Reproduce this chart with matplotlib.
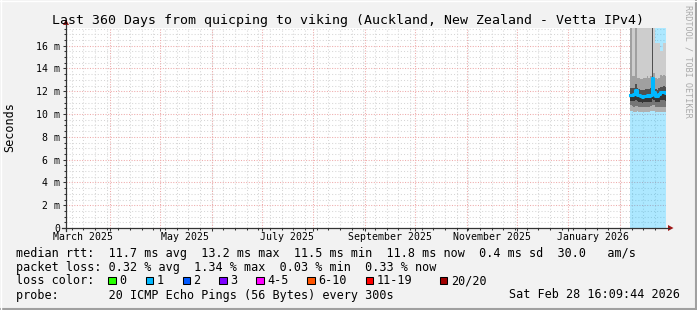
import matplotlib

matplotlib.use("Agg")
import matplotlib.pyplot as plt
from matplotlib.lines import Line2D
from matplotlib.patches import Polygon, Rectangle
import matplotlib.dates as mdates
import numpy as np
import pandas as pd

W, H = 697, 310
MONO = "DejaVu Sans Mono"

t_start = pd.Timestamp("2025-03-05 16:09:44")
t_end = pd.Timestamp("2026-02-28 16:09:44")

# one consolidated bin per day, Feb 7 .. Feb 28 2026 (ms)
bin_days = pd.date_range("2026-02-07", "2026-02-28", freq="D")
median_ms = [11.65, 11.70, 11.75, 12.10, 11.70, 11.65, 11.55, 11.50, 11.55, 11.60, 11.65,
             11.60, 11.65, 13.20, 11.95, 11.60, 11.60, 11.75, 11.90, 11.90, 11.90, 11.85]
smoke_min = [10.30, 10.25, 10.20, 10.20, 10.25, 10.20, 10.15, 10.15, 10.20, 10.20, 10.20,
             10.20, 10.25, 10.30, 10.25, 10.20, 10.20, 10.15, 10.15, 10.20, 10.20, 10.20]
smoke_p10 = [10.75, 10.70, 10.65, 10.70, 10.70, 10.65, 10.60, 10.60, 10.65, 10.65, 10.65,
             10.65, 10.70, 10.80, 10.75, 10.65, 10.60, 10.60, 10.65, 10.65, 10.65, 10.65]
smoke_p25 = [11.15, 11.15, 11.15, 11.20, 11.15, 11.10, 11.05, 11.00, 11.05, 11.05, 11.10,
             11.05, 11.10, 11.30, 11.25, 11.05, 11.05, 11.10, 11.20, 11.20, 11.20, 11.15]
smoke_p75 = [12.25, 12.30, 12.30, 12.60, 12.25, 12.20, 12.15, 12.10, 12.15, 12.20, 12.20,
             12.20, 12.25, 18.50, 12.50, 12.20, 12.15, 12.30, 12.40, 12.40, 12.45, 12.40]
smoke_p90 = [18.50, 13.30, 13.30, 18.50, 13.20, 13.20, 13.10, 13.10, 13.20, 13.20, 13.30,
             13.20, 13.30, 18.50, 13.60, 13.20, 13.10, 13.20, 13.40, 13.30, 13.40, 13.30]
smoke_max = [18.50, 18.50, 18.50, 18.50, 18.50, 18.50, 18.50, 18.50, 18.50, 18.50, 18.50,
             18.50, 18.50, 18.50, 18.50, 16.20, 16.20, 16.20, 15.50, 15.50, 16.20, 16.20]

y_major = np.arange(0, 17, 2)
y_labels = ["0"] + [f"{v} m" for v in y_major[1:]]
month_lines = pd.date_range("2025-04-01", "2026-02-01", freq="MS")
week_lines = pd.date_range("2025-03-09", "2026-02-28", freq="W-SUN")
label_months = pd.to_datetime(["2025-03-16", "2025-05-16", "2025-07-16",
                               "2025-09-16", "2025-11-16", "2026-01-16"])
label_texts = ["March 2025", "May 2025", "July 2025",
               "September 2025", "November 2025", "January 2026"]

loss_names = ["0", "1", "2", "3", "4-5", "6-10", "11-19", "20/20"]
loss_colors = ["#26ff00", "#00b8ff", "#0059ff", "#7e00ff",
               "#ff00ff", "#ff5500", "#ff0000", "#a10000"]
swatch_x = [108, 145.5, 182.5, 219.3, 256, 307, 365.5, 440]

rows = [
    "median rtt:  11.7 ms avg  13.2 ms max  11.5 ms min  11.8 ms now  0.4 ms sd  30.0   am/s",
    "packet loss: 0.32 % avg  1.34 % max  0.03 % min  0.33 % now",
    "loss color:",
    "probe:       20 ICMP Echo Pings (56 Bytes) every 300s",
]
stamp = "Sat Feb 28 16:09:44 2026"


def fx(x):
    return x / W


def fy(y):
    return 1 - y / H


def steps(a):
    a = np.asarray(a, dtype=float)
    return np.append(a, a[-1])


fig = plt.figure(figsize=(W / 100, H / 100), dpi=100)
fig.patch.set_facecolor("#f2f2f2")
# bevelled border
fig.add_artist(Line2D([0, 1], [fy(309), fy(309)], transform=fig.transFigure, color="#a0a0a0", lw=1.5))
fig.add_artist(Line2D([fx(696), fx(696)], [0, 1], transform=fig.transFigure, color="#a0a0a0", lw=1.5))
fig.add_artist(Line2D([0, 1], [fy(0.5), fy(0.5)], transform=fig.transFigure, color="white", lw=1))
fig.add_artist(Line2D([fx(0.5), fx(0.5)], [0, 1], transform=fig.transFigure, color="white", lw=1))

ax = fig.add_axes([fx(66), fy(228), 600 / W, 200 / H])
ax.set_facecolor("white")
for s in ax.spines.values():
    s.set_visible(False)

x0 = mdates.date2num(t_start)
x1 = mdates.date2num(t_end)
ax.set_xlim(x0, x1)
ax.set_ylim(0, 17.55)

# grid
minor_c, major_c = "#d6d6d6", "#eeaaaa"
minor_dots = (0, (1, 2))
major_dots = (0, (1, 1.5))
for y in np.arange(0.5, 17.55, 0.5):
    is_major = abs(y / 2 - round(y / 2)) < 1e-9
    if is_major:
        ax.axhline(y, color=major_c, lw=0.75, ls=major_dots, zorder=1.1)
    else:
        ax.axhline(y, color=minor_c, lw=0.75, ls=minor_dots, zorder=1)
for d in week_lines:
    ax.axvline(mdates.date2num(d), color=minor_c, lw=0.75, ls=minor_dots, zorder=1)
for d in month_lines:
    ax.axvline(mdates.date2num(d), color=major_c, lw=0.75, ls=major_dots, zorder=1.1)

# loss background + smoke + median
edges = np.append(mdates.date2num(bin_days), x1)
ax.fill_between(edges, 0, 17.55, step="post", color="#00b8ff", alpha=0.32, lw=0, zorder=2)
bands = [
    (smoke_min, smoke_p10, "#b0b0b0"),
    (smoke_p10, smoke_p25, "#767676"),
    (smoke_p25, median_ms, "#353535"),
    (median_ms, smoke_p75, "#505050"),
    (smoke_p75, smoke_p90, "#a0a0a0"),
    (smoke_p90, smoke_max, "#cdcdcd"),
]
for lo, hi, c in bands:
    ax.fill_between(edges, steps(lo), steps(hi), step="post", color=c, lw=0, zorder=3)
ax.step(edges, steps(median_ms), where="post", color="#00b8ff", lw=2.2, zorder=4)

# ticks
ax.set_yticks(y_major, y_labels, fontsize=7.1, family=MONO)
ax.set_yticks(np.arange(0, 17.55, 0.5), minor=True)
ax.set_xticks(mdates.date2num(month_lines), [""] * len(month_lines))
ax.set_xticks(mdates.date2num(week_lines), minor=True)
ax.tick_params(axis="both", which="major", length=2.2, width=0.75, color="#333333", pad=2.2)
ax.tick_params(axis="both", which="minor", length=1.5, width=0.75, color="#333333")
for d, t in zip(label_months, label_texts):
    ax.text(mdates.date2num(d), -12.5 / 200, t, transform=ax.get_xaxis_transform(),
            ha="center", va="baseline", fontsize=7.1, family=MONO)

# axes with arrows
axis_c, arrow_c = "#333333", "#a01818"
fig.add_artist(Line2D([fx(62), fx(669)], [fy(228), fy(228)], transform=fig.transFigure, color=axis_c, lw=0.9))
fig.add_artist(Line2D([fx(66), fx(66)], [fy(231), fy(24)], transform=fig.transFigure, color=axis_c, lw=0.9))
fig.add_artist(Polygon([(fx(668), fy(225)), (fx(673.5), fy(228)), (fx(668), fy(231))],
                       closed=True, transform=fig.transFigure, color=arrow_c, lw=0))
fig.add_artist(Polygon([(fx(63), fy(25)), (fx(66), fy(19.5)), (fx(69), fy(25))],
                       closed=True, transform=fig.transFigure, color=arrow_c, lw=0))

# texts
fig.text(fx(348), fy(24), "Last 360 Days from quicping to viking (Auckland, New Zealand - Vetta IPv4)",
         ha="center", va="baseline", fontsize=9.55, family=MONO)
fig.text(fx(10), fy(127), "Seconds", rotation=90, ha="center", va="center", fontsize=8.5, family=MONO)
fig.text(fx(688), fy(5), "RRDTOOL / TOBI OETIKER", rotation=270, ha="center", va="top",
         fontsize=6.1, family=MONO, color="#aaaaaa")

baselines = [257, 271, 284.5, 298.5]
for txt, yb in zip(rows, baselines):
    fig.text(fx(16), fy(yb), txt, ha="left", va="baseline", fontsize=8.5, family=MONO)
fig.text(fx(680), fy(baselines[3]), stamp, ha="right", va="baseline", fontsize=8.5, family=MONO)

for name, col, sx in zip(loss_names, loss_colors, swatch_x):
    fig.add_artist(Rectangle((fx(sx), fy(284)), 7.5 / W, 7.5 / H, transform=fig.transFigure,
                             facecolor=col, edgecolor="black", lw=0.75))
    fig.text(fx(sx + 11), fy(baselines[2]), name, ha="left", va="baseline", fontsize=8.5, family=MONO)

fig.savefig("out.png", dpi=100, facecolor=fig.get_facecolor())
